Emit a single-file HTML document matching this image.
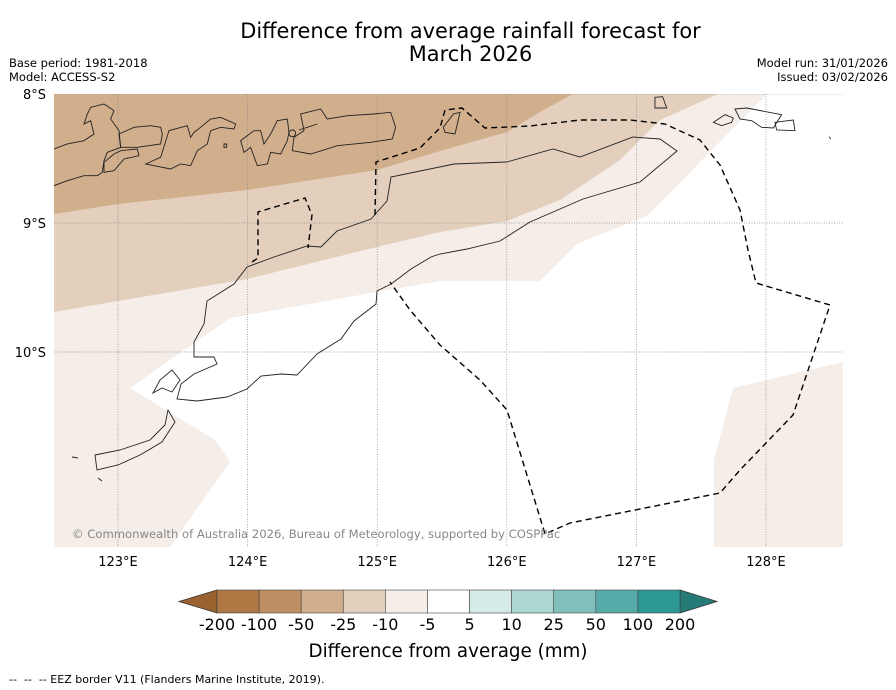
<!DOCTYPE html>
<html><head><meta charset="utf-8"><style>
body{margin:0;background:#fff;font-family:"Liberation Sans","DejaVu Sans",sans-serif}
#root{position:relative;width:896px;height:690px;overflow:hidden}
.t{position:absolute;white-space:nowrap;color:#000}
</style></head><body>
<div id="root">
<div class="t" style="left:0;width:941px;top:20px;text-align:center;font-size:20.9px;line-height:23px;font-family:'DejaVu Sans',sans-serif">Difference from average rainfall forecast for<br>March 2026</div>
<div class="t" style="left:9px;top:56px;font-size:11.5px;font-family:'DejaVu Sans',sans-serif;line-height:14px">Base period: 1981-2018<br>Model: ACCESS-S2</div>
<div class="t" style="right:8px;top:56px;font-size:11.5px;font-family:'DejaVu Sans',sans-serif;line-height:14px;text-align:right">Model run: 31/01/2026<br>Issued: 03/02/2026</div>
<svg id="chart" width="896" height="690" style="position:absolute;left:0;top:0">
<defs><clipPath id="clip"><rect x="54" y="94" width="789" height="453"/></clipPath></defs>
<g clip-path="url(#clip)">
<rect x="54" y="94" width="789" height="453" fill="#fff"/>
<polygon fill="#f5ede7" points="54,94 767,94 647,216 577,244 540,281 440,281 377,292 230,318 130,388 215,440 230,462 170,547 54,547"/>
<polygon fill="#f5ede7" points="733,388 843,362 843,547 714,547 714,460"/>
<polygon fill="#e3cfbc" points="54,94 718,94 660,120 620,160 560,200 507,221 440,232 377,247 247,279 118,301 54,312"/>
<polygon fill="#d1ae8c" points="54,94 573,94 540,112 507,132 440,151 377,170 247,190 118,204 54,214"/>
<g id="grid"></g>
<g fill="none" stroke="#222" stroke-width="0.9">
<path d="M677,151 L660,139 L633,137 L580,157 L553,149 L507,162 L454,164 L391,177 L387,201 L371,219 L337,231 L321,247 L307,246 L274,257 L247,267 L234,284 L207,301 L204,324 L194,342 L194,357 L214,357 L217,364 L194,374 L181,384 L177,399 L197,401 L227,397 L247,389 L261,376 L281,374 L297,375 L317,354 L341,339 L354,321 L376,304 L377,291 L391,284 L411,269 L431,257 L440,254 L467,249 L500,241 L530,222 L583,199 L640,182 Z"/>
<path d="M153,393 L160,380 L172,370 L180,380 L172,392 L162,388 Z"/>
<path d="M95,455 L120,450 L150,440 L165,425 L168,410 L175,422 L162,442 L140,455 L118,465 L97,470 Z M72,457 L78,458 M98,478 L102,481"/>
<g transform="translate(54,94) scale(0.3333)">
<path vector-effect="non-scaling-stroke" d="M0,165 L40,150 L90,140 L120,120 L110,80 L90,90 L100,60 L110,40 L150,30 L180,50 L170,75 L195,110 L200,160 L160,175 L150,200 L145,235 L130,245 L90,245 L40,260 L0,275"/>
<path vector-effect="non-scaling-stroke" d="M195,120 L240,100 L290,95 L320,100 L325,120 L320,150 L250,160 L200,160 Z M180,180 L200,170 L250,165 L255,185 L210,195 L180,230 L150,235 L150,205 Z"/>
<path vector-effect="non-scaling-stroke" d="M275,210 L320,190 L345,110 L400,95 L410,130 L420,115 L440,100 L470,75 L500,70 L545,90 L540,105 L500,100 L470,110 L460,150 L430,170 L410,215 L380,210 L350,225 L300,215 Z"/>
<path vector-effect="non-scaling-stroke" d="M560,140 L600,110 L620,110 L630,150 L650,120 L670,80 L700,75 L705,115 L700,140 L680,180 L650,175 L640,210 L610,215 L590,160 L570,175 Z M510,150 L518,150 L518,160 L510,160 Z"/>
<path vector-effect="non-scaling-stroke" d="M740,60 L800,45 L820,75 L880,65 L960,60 L1010,55 L1025,100 L1015,135 L950,145 L850,155 L770,180 L715,170 L720,130 L750,110 Z M735,108 L790,90"/>
<circle vector-effect="non-scaling-stroke" cx="715" cy="118" r="10"/>
</g>
<g transform="translate(440,94) scale(0.3333)">
<path vector-effect="non-scaling-stroke" d="M10,100 L40,60 L60,55 L45,120 L15,115 Z M645,10 L668,8 L680,42 L645,42 Z M820,85 L855,62 L880,72 L875,85 L845,95 Z M885,45 L920,42 L1025,62 L1000,102 L965,100 L935,80 L900,75 Z M1005,85 L1060,78 L1065,110 L1010,108 Z M1168,128 L1172,135"/>
</g>
</g>
<g fill="none" stroke="#000" stroke-width="1.4" stroke-dasharray="6,4">
<path d="M252,262 L258,258 L258,212 L305,198 L312,215 L308,248"/>
<path d="M375,215 L376,162 L420,148 L440,128 L445,110 L462,108 L485,128 L530,126 L580,120 L630,120 L665,124 L700,140 L720,165 L740,210 L748,250 L756,283 L830,305 L793,415 L740,470 L720,493 L570,523 L545,534 L507,410 L480,380 L440,345 L410,310 L390,282"/>
</g>
</g>
<g id="ticks"></g>
<g id="cbar"></g>
<text x="448" y="657" text-anchor="middle" font-size="18.3" font-family="DejaVu Sans,sans-serif">Difference from average (mm)</text>
<text x="72" y="538" font-size="11.6" fill="#888" font-family="DejaVu Sans,sans-serif">© Commonwealth of Australia 2026, Bureau of Meteorology, supported by COSPPac</text>
<text x="9" y="683" font-size="11" font-family="DejaVu Sans,sans-serif" xml:space="preserve" style="white-space:pre">--  --  -- EEZ border V11 (Flanders Marine Institute, 2019).</text>
</svg>
</div>
<script>
const lonTicks=[123,124,125,126,127,128];
const latTicks=[8,9,10];
const cbarLabels=["-200","-100","-50","-25","-10","-5","5","10","25","50","100","200"];
const cbarColors=["#ad7843","#be8f62","#d1ae8c","#e3cfbc","#f5ede7","#ffffff","#d5ebe8","#acd7d3","#80c1bd","#56aaa7","#2d9893"];
const NS="http://www.w3.org/2000/svg";
function xLon(l){return 118+(l-123)*129.6;}
function yLat(l){return 94+(l-8)*129;}
function mk(t,a,p){const e=document.createElementNS(NS,t);for(const k in a)e.setAttribute(k,a[k]);p.appendChild(e);return e;}
const grid=document.getElementById('grid'),ticks=document.getElementById('ticks'),cb=document.getElementById('cbar');
lonTicks.forEach(l=>{const x=xLon(l);
 const g=mk('line',{x1:x,x2:x,y1:94,y2:547,stroke:'#888','stroke-width':0.7,'stroke-dasharray':'1,1.5'},grid);
 
 
 const t=mk('text',{x:x,y:566,'text-anchor':'middle','font-size':13,'font-family':'DejaVu Sans,sans-serif'},ticks);t.textContent=l+'°E';
 
 });
latTicks.forEach(l=>{const y=yLat(l);
 const g=mk('line',{x1:54,x2:843,y1:y,y2:y,stroke:'#888','stroke-width':0.7,'stroke-dasharray':'1,1.5'},grid);
 
 
 const t=mk('text',{x:46,y:y+5,'text-anchor':'end','font-size':13,'font-family':'DejaVu Sans,sans-serif'},ticks);t.textContent=l+'°S';
 
 });
const cx0=217,cx1=680,cy=590,ch=23,bw=(cx1-cx0)/cbarColors.length;
let a=mk('polygon',{points:`${cx0},${cy} 179,${cy+ch/2} ${cx0},${cy+ch}`,fill:'#99622e',stroke:'#333','stroke-width':0.8},cb);


a=mk('polygon',{points:`${cx1},${cy} 717,${cy+ch/2} ${cx1},${cy+ch}`,fill:'#267b78',stroke:'#333','stroke-width':0.8},cb);


cbarColors.forEach((c,i)=>{const r=mk('rect',{x:cx0+i*bw,y:cy,width:bw,height:ch,fill:c,stroke:'#444','stroke-width':0.6},cb);
 
 });
cbarLabels.forEach((s,i)=>{const t=mk('text',{x:cx0+i*bw,y:630,'text-anchor':'middle','font-size':16,'font-family':'DejaVu Sans,sans-serif'},cb);t.textContent=s;
 
 });
</script>
</body></html>
